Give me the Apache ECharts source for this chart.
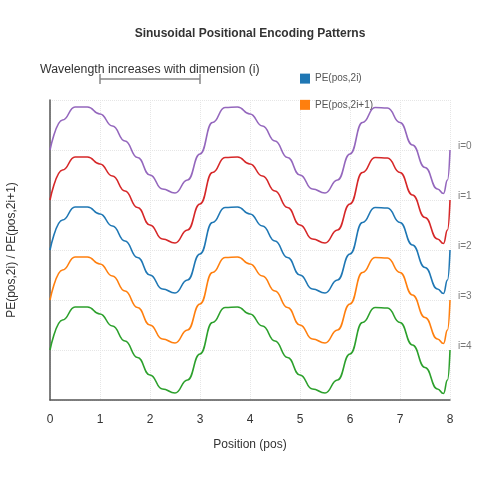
<!DOCTYPE html>
<html>
<head>
    <style>
        html, body { margin: 0; padding: 0; background: #fff; }
        #chart { width: 500px; height: 500px; }
    </style>
    <script src="https://cdn.jsdelivr.net/npm/echarts@6/dist/echarts.min.js"></script>
</head>
<body>
    <div id="chart"></div>
    <script type="text/javascript">
        // positions sampled along the x axis
        var positions = [0, 0.25, 0.5, 0.75, 1, 1.25, 1.5, 1.75, 2, 2.25, 2.5, 2.75, 3, 3.25, 3.5, 3.75, 4, 4.25, 4.5, 4.75, 5, 5.25, 5.5, 5.75, 6, 6.25, 6.5, 6.75, 7, 7.25, 7.5, 7.75, 7.87, 7.95, 8];
        // common wave shape (offset from each curve's baseline)
        var waveShape = [0, 0.6, 0.86, 0.86, 0.72, 0.48, 0.18, -0.15, -0.5, -0.78, -0.86, -0.6, -0.08, 0.55, 0.85, 0.86, 0.72, 0.48, 0.18, -0.15, -0.5, -0.78, -0.86, -0.6, -0.08, 0.55, 0.85, 0.84, 0.55, 0.1, -0.35, -0.78, -0.87, -0.6, 0];
        var seriesNames = ['i=0', 'i=1', 'PE(pos,2i)', 'PE(pos,2i+1)', 'i=4'];
        var endLabels = ['i=0', 'i=1', 'i=2', 'i=3', 'i=4'];
        var baselines = [5, 4, 3, 2, 1];
        var colors = ['#9467bd', '#d62728', '#1f77b4', '#ff7f0e', '#2ca02c'];

        var chart = echarts.init(document.getElementById('chart'));
        var series = baselines.map(function (base, i) {
            return {
                name: seriesNames[i],
                type: 'line',
                smooth: 0.5,
                smoothMonotone: 'x',
                symbol: 'none',
                lineStyle: { width: 1.6, color: colors[i] },
                itemStyle: { color: colors[i] },
                endLabel: {
                    show: true,
                    formatter: endLabels[i],
                    color: '#777',
                    fontSize: 10,
                    offset: [0, -4]
                },
                data: positions.map(function (x, k) { return [x, base + waveShape[k]]; })
            };
        });

        chart.setOption({
            animation: false,
            title: {
                text: 'Sinusoidal Positional Encoding Patterns',
                left: 'center', top: 18,
                textStyle: { fontSize: 12, fontWeight: 'bold', color: '#333' }
            },
            legend: {
                data: ['PE(pos,2i)', 'PE(pos,2i+1)'],
                orient: 'vertical',
                left: 295, top: 65,
                itemWidth: 10, itemHeight: 10, itemGap: 9,
                icon: 'rect',
                textStyle: { fontSize: 10, color: '#555' }
            },
            grid: { left: 50, right: 50, top: 100, bottom: 100, containLabel: false, outerBoundsMode: 'none' },
            xAxis: {
                type: 'value', min: 0, max: 8, interval: 1,
                name: 'Position (pos)', nameLocation: 'middle', nameGap: 19,
                nameTextStyle: { fontSize: 12, color: '#333' },
                axisLine: { lineStyle: { color: '#555', width: 1.5 } },
                axisTick: { show: false },
                axisLabel: { color: '#333', fontSize: 12, margin: 9 },
                splitLine: { show: true, lineStyle: { color: '#e6e6e6', type: 'dotted' } }
            },
            yAxis: {
                type: 'value', min: 0, max: 6, interval: 1,
                name: 'PE(pos,2i) / PE(pos,2i+1)', nameLocation: 'middle', nameGap: 28,
                nameTextStyle: { fontSize: 12, color: '#333' },
                axisLine: { show: true, lineStyle: { color: '#555', width: 1.5 } },
                axisTick: { show: false },
                axisLabel: { show: false },
                splitLine: { show: true, lineStyle: { color: '#e6e6e6', type: 'dotted' } }
            },
            graphic: [
                { type: 'text', left: 40, top: 59, style: { text: 'Wavelength increases with dimension (i)', fontSize: 12.3, fill: '#333' } },
                { type: 'line', shape: { x1: 100, y1: 79, x2: 200, y2: 79 }, style: { stroke: '#888', lineWidth: 1.5 } },
                { type: 'line', shape: { x1: 100, y1: 74, x2: 100, y2: 84 }, style: { stroke: '#888', lineWidth: 1.5 } },
                { type: 'line', shape: { x1: 200, y1: 74, x2: 200, y2: 84 }, style: { stroke: '#888', lineWidth: 1.5 } }
            ],
            series: series
        });
    </script>
</body>
</html>
